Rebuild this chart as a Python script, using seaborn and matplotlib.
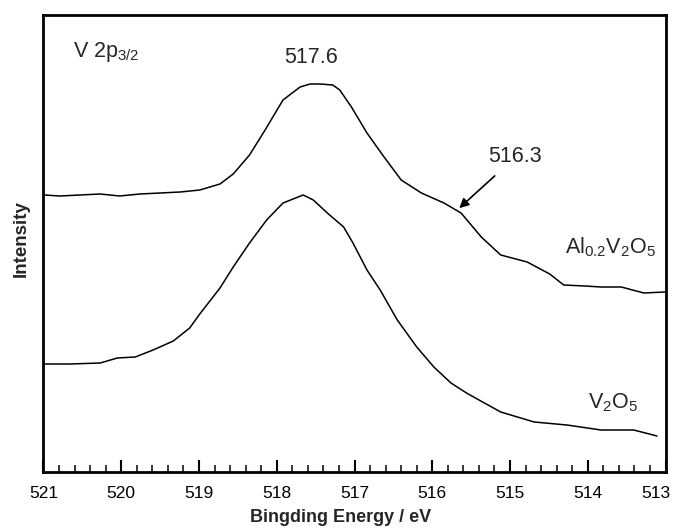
import numpy as np
import pandas as pd
import matplotlib
matplotlib.use('Agg')
import matplotlib.pyplot as plt
import matplotlib.transforms as mtransforms
import seaborn as sns

# V 2p3/2 XPS 스펙트럼 (그림에서 읽은 값, 세기는 임의 단위)
energy_al = [520.99, 520.79, 520.53, 520.27, 520.02, 519.76, 519.50, 519.24, 518.99, 518.73,
             518.56, 518.35, 518.15, 517.92, 517.70, 517.57, 517.44, 517.28, 517.19, 517.04,
             516.84, 516.62, 516.40, 516.14, 515.85, 515.63, 515.37, 515.12, 514.78, 514.49,
             514.31, 514.04, 513.83, 513.57, 513.28, 513.01]
inten_al = [277.5, 276.5, 277.5, 278.5, 276.5, 278.5, 279.5, 280.5, 282.5, 288.5,
            298.5, 317.5, 342.5, 372.5, 385.5, 388.5, 388.5, 387.5, 382.5, 365.5,
            339.5, 315.5, 292.5, 279.5, 269.5, 259.5, 235.5, 217.5, 210.5, 198.5,
            187.5, 186.5, 185.5, 185.5, 179.5, 180.5]

energy_v = [520.99, 520.66, 520.27, 520.05, 519.82, 519.59, 519.33, 519.12, 518.99, 518.73,
            518.56, 518.35, 518.13, 517.92, 517.66, 517.53, 517.35, 517.14, 517.02, 516.84,
            516.67, 516.45, 516.20, 515.98, 515.76, 515.56, 515.33, 515.12, 514.69,
            514.27, 513.83, 513.41, 513.11]
inten_v = [108.5, 108.5, 109.5, 114.5, 115.5, 122.5, 131.5, 144.5, 158.5, 184.5,
           205.5, 229.5, 252.5, 269.5, 277.5, 272.5, 259.5, 245.5, 229.5, 202.5,
           182.5, 152.5, 125.5, 105.5, 89.5, 79.5, 69.5, 60.5, 50.5,
           47.5, 42.5, 42.5, 36.5]

sns.set_style('ticks')
plt.rcParams['font.family'] = ['Liberation Sans', 'DejaVu Sans']
plt.rcParams['mathtext.fontset'] = 'custom'
plt.rcParams['mathtext.rm'] = 'Liberation Sans'
plt.rcParams['mathtext.it'] = 'Liberation Sans'

fig = plt.figure(figsize=(6.74, 5.3), dpi=100)
ax = fig.add_axes([0.0645, 0.1085, 0.923, 0.8632])

df_al = pd.DataFrame({'E': energy_al, 'I': inten_al})
df_v = pd.DataFrame({'E': energy_v, 'I': inten_v})
sns.lineplot(data=df_al, x='E', y='I', color='black', linewidth=1.1, ax=ax)
sns.lineplot(data=df_v, x='E', y='I', color='black', linewidth=1.1, ax=ax)

ax.set_xlim(521, 513)
ax.set_ylim(0, 457.5)
ax.set_xticks(np.arange(513, 522, 1))
ax.set_xticks(np.arange(513, 521.01, 0.2), minor=True)
ax.set_yticks([])
ax.tick_params(axis='x', which='major', direction='in', length=9, width=1.5,
               labelsize=12.5, pad=10, colors='black')
ax.tick_params(axis='x', which='minor', direction='in', length=5, width=1.3)
for s in ax.spines.values():
    s.set_linewidth(2)
    s.set_color('black')

# 오른쪽 끝 라벨(513)은 그림 안으로 살짝 당김
lab = ax.get_xticklabels()[0]
lab.set_transform(lab.get_transform() +
                  mtransforms.ScaledTranslation(-9.5 / 100, 0, fig.dpi_scale_trans))

ax.set_xlabel('Bingding Energy / eV', fontsize=13, fontweight='bold')
ax.set_ylabel('Intensity', fontsize=13.5, fontweight='bold')
ax.xaxis.set_label_coords(0.478, -0.080)
ax.yaxis.set_label_coords(-0.022, 0.511)

ax.text(520.62, 415.5, 'V 2p$_{3/2}$', fontsize=15.5, va='baseline', ha='left')
ax.text(517.56, 409, '517.6', fontsize=15.5, va='baseline', ha='center')
ax.text(514.94, 310.5, '516.3', fontsize=15.5, va='baseline', ha='center')
ax.annotate('', xy=(515.68, 262.5), xytext=(515.17, 298.5),
            arrowprops=dict(arrowstyle='-|>', color='black', lw=1.2, mutation_scale=14))
ax.text(514.29, 219.5, 'Al$_{0.2}$V$_2$O$_5$', fontsize=15.5, va='baseline', ha='left')
ax.text(514.0, 64.5, 'V$_2$O$_5$', fontsize=15.5, va='baseline', ha='left')

plt.savefig('out.png', dpi=100)
